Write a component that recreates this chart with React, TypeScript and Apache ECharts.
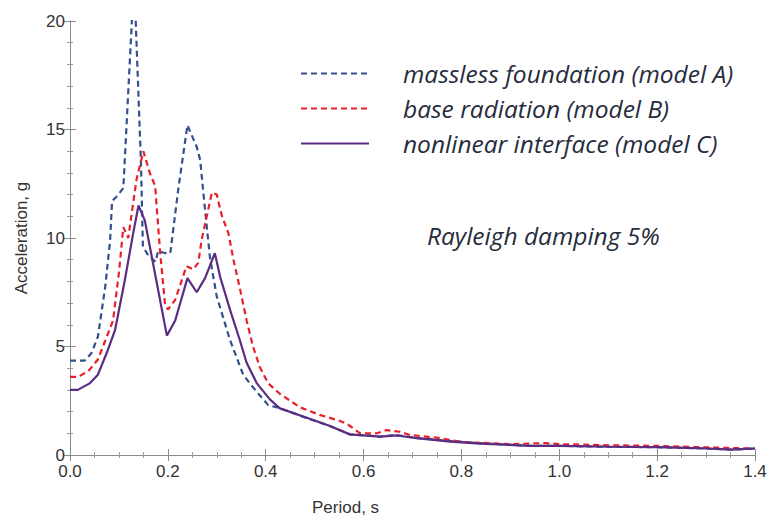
import React, { useEffect, useRef } from "react";
import * as echarts from "echarts";

const xTicks = [0, 0.2, 0.4, 0.6, 0.8, 1.0, 1.2, 1.4];
const yTicks = [0, 5, 10, 15, 20];

const seriesNames = [
  "massless foundation (model A)",
  "base radiation (model B)",
  "nonlinear interface (model C)",
];

const periodA = [0, 0.03, 0.044, 0.057, 0.072, 0.082, 0.086, 0.095, 0.109, 0.131, 0.145, 0.149, 0.16, 0.175, 0.18, 0.195, 0.205, 0.221, 0.24, 0.259, 0.266, 0.276, 0.286, 0.3, 0.327, 0.354, 0.371, 0.405, 0.43, 0.484, 0.53, 0.572, 0.634, 0.668, 0.709, 0.777, 0.838, 0.94, 1.0, 1.1, 1.2, 1.3, 1.35, 1.4];
const accelA = [4.35, 4.35, 4.7, 5.45, 7.75, 9.9, 11.7, 11.9, 12.3, 22, 13.5, 9.6, 9.2, 8.9, 9.4, 9.3, 9.3, 12.2, 15.2, 14.2, 13.6, 11.3, 9.1, 7.3, 5.3, 3.7, 3.2, 2.3, 2.15, 1.7, 1.35, 0.95, 0.85, 0.92, 0.78, 0.65, 0.55, 0.42, 0.42, 0.38, 0.36, 0.3, 0.25, 0.3];

const periodB = [0, 0.016, 0.037, 0.057, 0.07, 0.088, 0.1, 0.109, 0.119, 0.136, 0.15, 0.163, 0.174, 0.184, 0.194, 0.2, 0.215, 0.238, 0.252, 0.262, 0.269, 0.29, 0.3, 0.31, 0.324, 0.334, 0.347, 0.361, 0.374, 0.388, 0.405, 0.43, 0.47, 0.51, 0.548, 0.565, 0.593, 0.627, 0.647, 0.674, 0.695, 0.756, 0.8, 0.9, 0.97, 1.0, 1.1, 1.2, 1.3, 1.4];
const accelB = [3.6, 3.6, 3.85, 4.4, 5.15, 6.2, 8.4, 10.5, 10.0, 12.7, 14.0, 13.0, 12.4, 9.4, 7.0, 6.7, 7.15, 8.7, 8.55, 8.85, 9.9, 12.1, 12.0, 11.05, 10.2, 9.0, 7.7, 6.2, 5.0, 4.05, 3.3, 2.8, 2.2, 1.85, 1.6, 1.45, 1.0, 1.0, 1.15, 1.07, 0.92, 0.78, 0.6, 0.5, 0.55, 0.5, 0.45, 0.42, 0.35, 0.3];

const periodC = [0, 0.016, 0.04, 0.057, 0.075, 0.092, 0.112, 0.129, 0.14, 0.153, 0.198, 0.215, 0.24, 0.259, 0.276, 0.296, 0.307, 0.327, 0.347, 0.361, 0.382, 0.409, 0.429, 0.484, 0.53, 0.572, 0.634, 0.668, 0.709, 0.777, 0.838, 0.94, 1.0, 1.1, 1.2, 1.3, 1.35, 1.4];
const accelC = [3.0, 3.0, 3.3, 3.7, 4.7, 5.75, 8.05, 10.2, 11.5, 10.8, 5.5, 6.2, 8.15, 7.5, 8.15, 9.3, 8.2, 6.7, 5.3, 4.25, 3.3, 2.55, 2.15, 1.72, 1.35, 0.95, 0.85, 0.9, 0.78, 0.62, 0.52, 0.42, 0.42, 0.38, 0.36, 0.3, 0.25, 0.3];

const colors = ["#34508c", "#e8202a", "#5a2d82"];
const axisFont = "'Liberation Sans', Arial, sans-serif";
const textFont = "'Open Sans', 'Noto Sans', sans-serif";

const zip = (xs: number[], ys: number[]) => xs.map((x, i) => [x, ys[i]]);

export default function App() {
  const ref = useRef<HTMLDivElement>(null);
  useEffect(() => {
    if (!ref.current) return;
    const chart = echarts.init(ref.current, null, { renderer: "svg" });
    const axisLine = { show: true, lineStyle: { color: "#8a8a8a", width: 1 } };
    const tick = { show: true, inside: true, length: 6, lineStyle: { color: "#8a8a8a" } };
    const minorX = { show: true, splitNumber: 4, length: 3, lineStyle: { color: "#9a9a9a" } };
    const minorY = { show: true, splitNumber: 5, length: 3, lineStyle: { color: "#9a9a9a" } };
    const xBase = { type: "value", min: xTicks[0], max: xTicks[xTicks.length - 1], interval: 0.2 };
    const yBase = { type: "value", min: yTicks[0], max: yTicks[yTicks.length - 1], interval: 5 };
    chart.setOption({
      animation: false,
      backgroundColor: "#ffffff",
      grid: { left: 70, right: 18, top: 21, bottom: 67 },
      xAxis: [
        {
          ...xBase,
          position: "bottom",
          axisLine,
          axisTick: tick,
          minorTick: minorX,
          splitLine: { show: false },
          axisLabel: {
            show: true,
            margin: 8,
            fontSize: 17,
            fontFamily: axisFont,
            color: "#333",
            formatter: (v: number) => v.toFixed(1),
          },
        },
        {
          ...xBase,
          position: "top",
          axisLine,
          axisTick: tick,
          minorTick: minorX,
          splitLine: { show: false },
          axisLabel: { show: false },
        },
      ],
      yAxis: [
        {
          ...yBase,
          position: "left",
          name: "Acceleration, g",
          nameLocation: "middle",
          nameGap: 40,
          nameTextStyle: { fontSize: 17, fontFamily: axisFont, color: "#333" },
          axisLine,
          axisTick: tick,
          minorTick: minorY,
          splitLine: { show: false },
          axisLabel: { show: true, margin: 5, fontSize: 17, fontFamily: axisFont, color: "#333" },
        },
        {
          ...yBase,
          position: "right",
          axisLine,
          axisTick: tick,
          minorTick: minorY,
          splitLine: { show: false },
          axisLabel: { show: false },
        },
      ],
      legend: {
        show: true,
        orient: "vertical",
        left: 295,
        top: 56,
        itemWidth: 68,
        itemHeight: 25,
        itemGap: 10,
        data: seriesNames,
        itemStyle: { opacity: 0 },
        textStyle: {
          fontSize: 24.5,
          lineHeight: 25,
          fontStyle: "italic",
          fontFamily: textFont,
          color: "#262c3c",
          padding: [0, 0, 0, 29],
        },
      },
      graphic: [
        {
          type: "text",
          left: 427,
          top: 223,
          style: {
            text: "Rayleigh damping 5%",
            fontSize: 24.5,
            fontStyle: "italic",
            fontFamily: textFont,
            fill: "#262c3c",
          },
        },
        {
          type: "text",
          left: 312,
          top: 499,
          style: {
            text: "Period, s",
            fontSize: 17,
            fontFamily: axisFont,
            fill: "#333",
          },
        },
      ],
      series: [
        {
          name: seriesNames[0],
          type: "line",
          data: zip(periodA, accelA),
          showSymbol: false,
          symbol: "none",
          color: colors[0],
          lineStyle: { color: colors[0], width: 2.2, type: [6, 4] },
          clip: true,
        },
        {
          name: seriesNames[1],
          type: "line",
          data: zip(periodB, accelB),
          showSymbol: false,
          symbol: "none",
          color: colors[1],
          lineStyle: { color: colors[1], width: 2.2, type: [6, 4] },
          clip: true,
        },
        {
          name: seriesNames[2],
          type: "line",
          data: zip(periodC, accelC),
          showSymbol: false,
          symbol: "none",
          color: colors[2],
          lineStyle: { color: colors[2], width: 2.2 },
          clip: true,
        },
      ],
    });
    return () => chart.dispose();
  }, []);
  return (
    <div
      ref={ref}
      style={{ position: "fixed", left: 0, top: 0, width: 773, height: 522 }}
    />
  );
}
